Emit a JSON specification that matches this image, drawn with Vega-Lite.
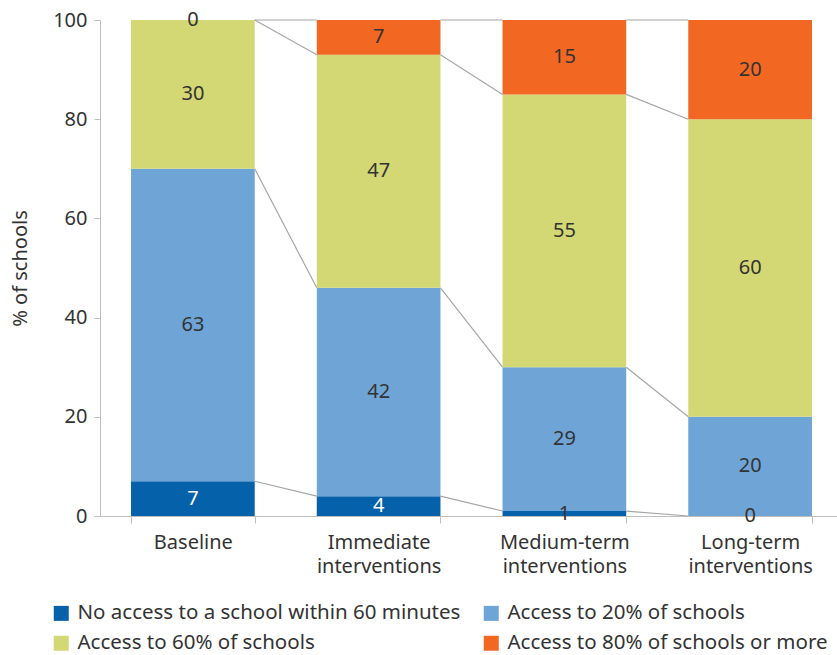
{
  "$schema": "https://vega.github.io/schema/vega-lite/v6.json",
  "width": 737,
  "height": 496,
  "autosize": {"type": "none"},
  "padding": {"left": 100, "top": 20, "right": 0, "bottom": 139},
  "background": "white",
  "config": {
    "font": "Noto Sans",
    "view": {"stroke": null},
    "axis": {
      "domainColor": "#BFBFBF",
      "tickColor": "#BFBFBF",
      "labelColor": "#333333",
      "labelFontSize": 20,
      "titleColor": "#333333",
      "titleFontSize": 20,
      "titleFontWeight": "normal",
      "grid": false
    }
  },
  "datasets": {
    "bars": [
      {"period": "Baseline", "category": "No access to a school within 60 minutes", "value": 7},
      {"period": "Baseline", "category": "Access to 20% of schools", "value": 63},
      {"period": "Baseline", "category": "Access to 60% of schools", "value": 30},
      {"period": "Baseline", "category": "Access to 80% of schools or more", "value": 0},
      {"period": "Immediate interventions", "category": "No access to a school within 60 minutes", "value": 4},
      {"period": "Immediate interventions", "category": "Access to 20% of schools", "value": 42},
      {"period": "Immediate interventions", "category": "Access to 60% of schools", "value": 47},
      {"period": "Immediate interventions", "category": "Access to 80% of schools or more", "value": 7},
      {"period": "Medium-term interventions", "category": "No access to a school within 60 minutes", "value": 1},
      {"period": "Medium-term interventions", "category": "Access to 20% of schools", "value": 29},
      {"period": "Medium-term interventions", "category": "Access to 60% of schools", "value": 55},
      {"period": "Medium-term interventions", "category": "Access to 80% of schools or more", "value": 15},
      {"period": "Long-term interventions", "category": "No access to a school within 60 minutes", "value": 0},
      {"period": "Long-term interventions", "category": "Access to 20% of schools", "value": 20},
      {"period": "Long-term interventions", "category": "Access to 60% of schools", "value": 60},
      {"period": "Long-term interventions", "category": "Access to 80% of schools or more", "value": 20}
    ],
    "links": [
      {"from": "Baseline", "to": "Immediate interventions", "y1": 7, "y2": 4},
      {"from": "Baseline", "to": "Immediate interventions", "y1": 70, "y2": 46},
      {"from": "Baseline", "to": "Immediate interventions", "y1": 100, "y2": 93},
      {"from": "Baseline", "to": "Immediate interventions", "y1": 100, "y2": 100},
      {"from": "Immediate interventions", "to": "Medium-term interventions", "y1": 4, "y2": 1},
      {"from": "Immediate interventions", "to": "Medium-term interventions", "y1": 46, "y2": 30},
      {"from": "Immediate interventions", "to": "Medium-term interventions", "y1": 93, "y2": 85},
      {"from": "Immediate interventions", "to": "Medium-term interventions", "y1": 100, "y2": 100},
      {"from": "Medium-term interventions", "to": "Long-term interventions", "y1": 1, "y2": 0},
      {"from": "Medium-term interventions", "to": "Long-term interventions", "y1": 30, "y2": 20},
      {"from": "Medium-term interventions", "to": "Long-term interventions", "y1": 85, "y2": 80},
      {"from": "Medium-term interventions", "to": "Long-term interventions", "y1": 100, "y2": 100}
    ]
  },
  "layer": [
    {
      "data": {"name": "bars"},
      "transform": [
        {"calculate": "datum.category == 'No access to a school within 60 minutes' ? 0 : datum.category == 'Access to 20% of schools' ? 1 : datum.category == 'Access to 60% of schools' ? 2 : 3", "as": "k"}
      ],
      "mark": {"type": "bar"},
      "encoding": {
        "x": {
          "field": "period", "type": "nominal", "title": null, "sort": null,
          "scale": {
            "type": "band",
            "domain": ["Baseline", "Immediate interventions", "Medium-term interventions", "Long-term interventions"],
            "range": [0, 743],
            "paddingInner": 0.334,
            "paddingOuter": 0.167
          },
          "axis": {
            "tickBand": "extent",
            "tickSize": 7,
            "labelAngle": 0,
            "labelPadding": 9,
            "labelLineHeight": 24,
            "labelExpr": "split(datum.label, ' ')",
            "labelLimit": 300
          }
        },
        "y": {
          "field": "value", "type": "quantitative", "stack": "zero", "title": "% of schools",
          "scale": {"domain": [0, 100], "nice": false},
          "axis": {"values": [0, 20, 40, 60, 80, 100], "tickSize": 6, "labelPadding": 7, "titlePadding": 22}
        },
        "order": {"field": "k", "type": "quantitative", "sort": "ascending"},
        "color": {
          "field": "category", "type": "nominal",
          "scale": {
            "domain": ["No access to a school within 60 minutes", "Access to 20% of schools", "Access to 60% of schools", "Access to 80% of schools or more"],
            "range": ["#0461AA", "#6FA5D6", "#D3D774", "#F26722"]
          },
          "legend": {
            "title": null,
            "orient": "none",
            "legendX": -49,
            "legendY": 583,
            "direction": "horizontal",
            "columns": 2,
            "columnPadding": 20,
            "rowPadding": 9,
            "padding": 0,
            "symbolType": "square",
            "symbolSize": 225,
            "symbolStrokeWidth": 0,
            "labelFontSize": 20.5,
            "labelColor": "#333333",
            "labelOffset": 6,
            "labelLimit": 600
          }
        }
      }
    },
    {
      "data": {"name": "links"},
      "mark": {"type": "rule", "color": "#A6A6A6", "strokeWidth": 1.2},
      "encoding": {
        "x": {"field": "from", "type": "nominal", "title": null, "bandPosition": 1},
        "x2": {"field": "to", "bandPosition": 0},
        "y": {"field": "y1", "type": "quantitative", "title": "% of schools"},
        "y2": {"field": "y2"}
      }
    },
    {
      "data": {"name": "bars"},
      "transform": [
        {"calculate": "datum.category == 'No access to a school within 60 minutes' ? 0 : datum.category == 'Access to 20% of schools' ? 1 : datum.category == 'Access to 60% of schools' ? 2 : 3", "as": "k"}
      ],
      "mark": {"type": "text", "fontSize": 20, "baseline": "middle"},
      "encoding": {
        "x": {"field": "period", "type": "nominal", "title": null},
        "y": {"field": "value", "type": "quantitative", "stack": "zero", "bandPosition": 0.5, "title": "% of schools"},
        "order": {"field": "k", "type": "quantitative", "sort": "ascending"},
        "detail": {"field": "category"},
        "text": {"field": "value", "type": "quantitative"},
        "color": {
          "condition": {"test": "datum.category == 'No access to a school within 60 minutes' && datum.value >= 4", "value": "white"},
          "value": "#333333"
        }
      }
    }
  ]
}
